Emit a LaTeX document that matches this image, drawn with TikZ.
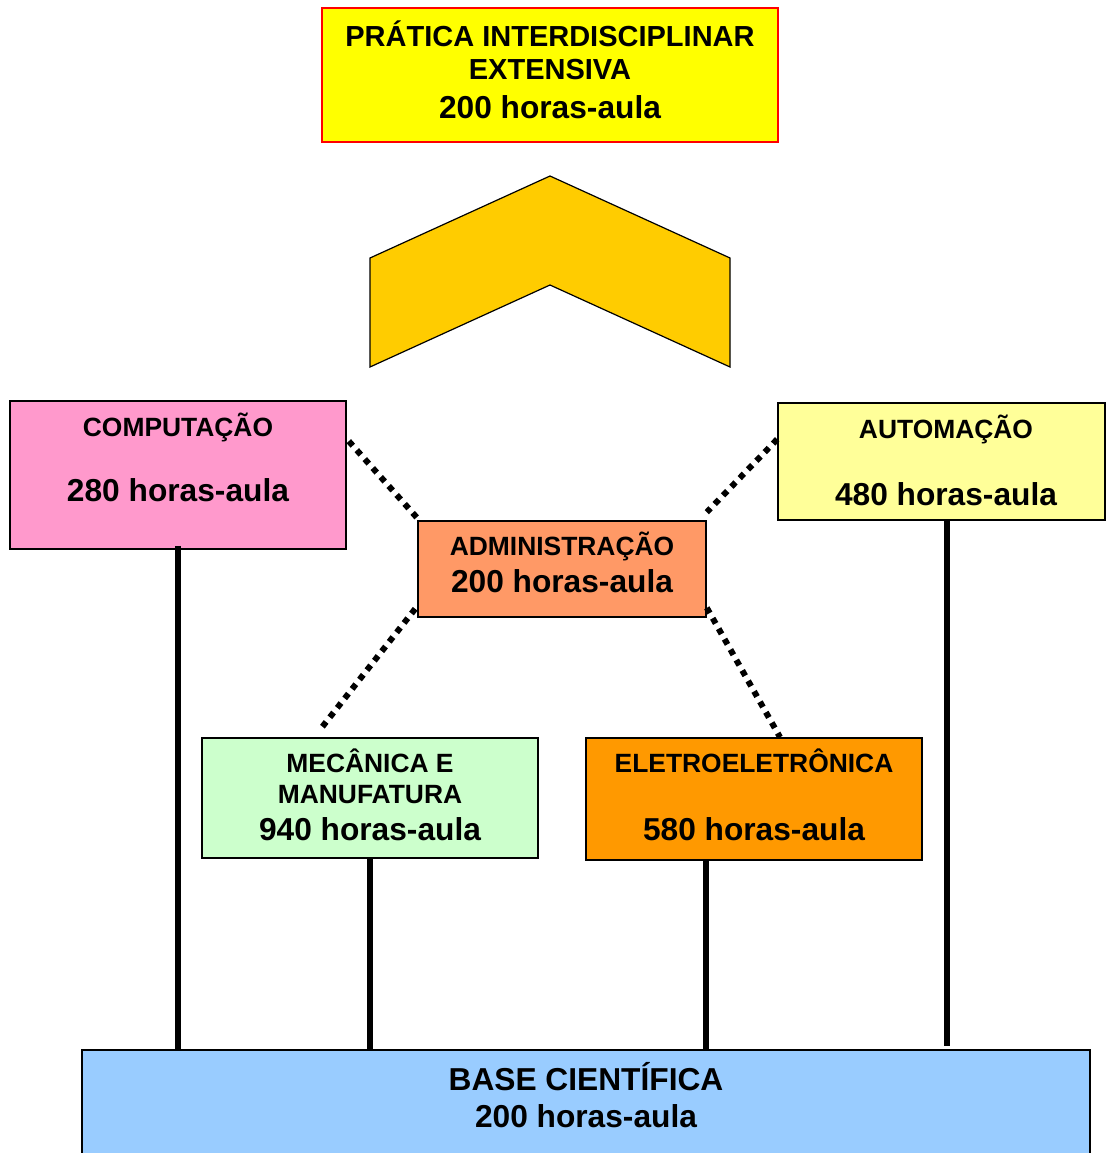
\documentclass[tikz,border=0pt]{standalone}
\usepackage{fontspec}
\setmainfont{Liberation Sans}
\begin{document}
\begin{tikzpicture}[x=1pt,y=-1pt,
  box/.style={draw=black,line width=1.6pt,rectangle,inner sep=0pt},
  sm/.style={font=\fontsize{26.4}{30}\selectfont\bfseries,anchor=base,inner sep=0pt},
  lg/.style={font=\fontsize{31.7}{36}\selectfont\bfseries,anchor=base,inner sep=0pt},
  md/.style={font=\fontsize{29}{33}\selectfont\bfseries,anchor=base,inner sep=0pt},
  solidlink/.style={line width=6pt},
  dotlink/.style={line width=6pt,dash pattern=on 6pt off 6pt}]
\useasboundingbox (0,0) rectangle (1106,1153);
\definecolor{cyellow}{HTML}{FFFF00}
\definecolor{cgold}{HTML}{FFCC00}
\definecolor{cpink}{HTML}{FF99CC}
\definecolor{clyellow}{HTML}{FFFF99}
\definecolor{csalmon}{HTML}{FF9966}
\definecolor{cgreen}{HTML}{CCFFCC}
\definecolor{corange}{HTML}{FF9900}
\definecolor{cblue}{HTML}{99CCFF}

% top box
\node[box,draw=red,fill=cyellow,minimum width=456pt,minimum height=134pt] (top) at (550,75) {};
\node[md] (t1) at (550,46.5) {PRÁTICA INTERDISCIPLINAR};
\node[md] (t2) at (550,80) {EXTENSIVA};
\node[lg] (t3) at (550,118) {200 horas-aula};

% chevron
\draw[fill=cgold,line width=1.2pt,line join=miter] (370,258) -- (550,176) -- (730,258) -- (730,367) -- (550,285) -- (370,367) -- cycle;

% boxes
\node[box,fill=cpink,minimum width=336pt,minimum height=148pt] (comp) at (178,475) {};
\node[sm] (c1) at (178,436.7) {COMPUTAÇÃO};
\node[lg] (c2) at (178,501.5) {280 horas-aula};

\node[box,fill=clyellow,minimum width=327pt,minimum height=117pt] (auto) at (941.5,461.5) {};
\node[sm] (a1) at (946,438.5) {AUTOMAÇÃO};
\node[lg] (a2) at (946,505) {480 horas-aula};

\node[box,fill=csalmon,minimum width=288pt,minimum height=96pt] (adm) at (562,569) {};
\node[sm] (d1) at (562,555.5) {ADMINISTRAÇÃO};
\node[lg] (d2) at (562,592.5) {200 horas-aula};

\node[box,fill=cgreen,minimum width=336pt,minimum height=120pt] (mec) at (370,798) {};
\node[sm] (m1) at (370,772.5) {MECÂNICA E};
\node[sm] (m2) at (370,803.5) {MANUFATURA};
\node[lg] (m3) at (370,840.3) {940 horas-aula};

\node[box,fill=corange,minimum width=336pt,minimum height=122pt] (ele) at (754,799) {};
\node[sm] (e1) at (754,772.5) {ELETROELETRÔNICA};
\node[lg] (e2) at (754,840.3) {580 horas-aula};

\node[box,fill=cblue,minimum width=1008pt,minimum height=120pt] (base) at (586,1110) {};
\node[lg] (b1) at (586,1090.3) {BASE CIENTÍFICA};
\node[lg] (b2) at (586,1127.3) {200 horas-aula};

% solid links
\draw[solidlink] ([yshift=4pt]comp.south) -- (comp.south |- base.north);
\draw[solidlink] (mec.south) -- (mec.south |- base.north);
\draw[solidlink] ([xshift=-48pt]ele.south) -- ([xshift=-48pt]ele.south |- base.north);
\draw[solidlink] ([xshift=5.5pt]auto.south) -- ([xshift=5.5pt,yshift=3pt]auto.south |- base.north);

% dotted links
\draw[dotlink] ([xshift=2pt,yshift=-41pt]comp.north east) -- ([xshift=2pt]adm.north west);
\draw[dotlink] ([yshift=-37pt]auto.north west) -- ([yshift=8pt]adm.north east);
\draw[dotlink] ([xshift=-2pt,yshift=9pt]adm.south west) -- ([xshift=-48pt,yshift=10pt]mec.north);
\draw[dotlink] ([yshift=10pt]adm.south east) -- ([xshift=26pt]ele.north);
\end{tikzpicture}
\end{document}
